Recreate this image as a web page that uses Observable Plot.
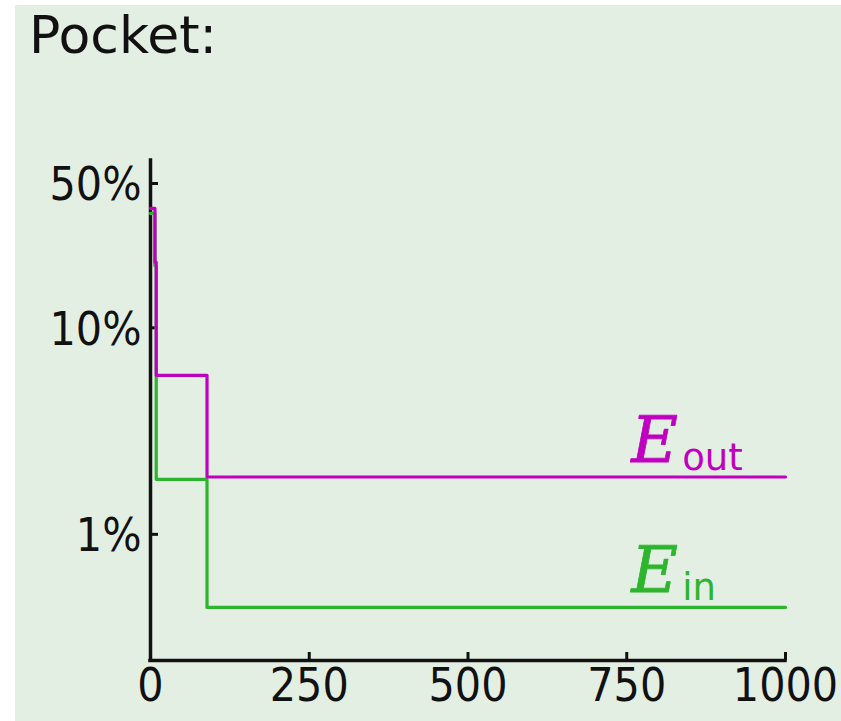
<!DOCTYPE html>
<html>
<head>
<meta charset="utf-8">
<script src="https://cdn.jsdelivr.net/npm/d3@7"></script>
<script src="https://cdn.jsdelivr.net/npm/@observablehq/plot@0.6"></script>
<style>
  html, body { margin: 0; padding: 0; background: #ffffff; }
  #panel { position: absolute; left: 15px; top: 5px; width: 826px; height: 716px; background: #e4efe4; overflow: hidden; }
  #title { position: absolute; left: 14px; top: 4px; font-family: "DejaVu Sans", sans-serif; font-size: 52px; line-height: 1; color: #111; }
  #chart { position: absolute; left: 0; top: 80px; }
</style>
</head>
<body>
<div id="panel">
  <div id="title">Pocket:</div>
  <div id="chart"></div>
</div>
<script>
// Pocket algorithm: error rates per iteration (the pocket weights change only a few times)
const iterations = [0, 7, 9, 89, 1000];
const eOut = [0.379, 0.208, 0.0589, 0.01895, 0.01895];
const eIn = [0.358, 0.200, 0.01846, 0.00443, 0.00443];

const xTicks = [0, 250, 500, 750, 1000];
const yTicks = [0.5, 0.1, 0.01];
const yDomain = [0.00245, 0.646];

const seriesNames = ["out", "in"];
const seriesColors = ["#c000c0", "#2db52d"];

const outRows = iterations.map((t, i) => ({t, v: eOut[i]}));
const inRows = iterations.map((t, i) => ({t, v: eIn[i]}));

// label anchors sit on each series' final level
const labelIter = 757;
const labels = [
  {t: labelIter, v: eOut[eOut.length - 1], sub: seriesNames[0], color: seriesColors[0]},
  {t: labelIter, v: eIn[eIn.length - 1], sub: seriesNames[1], color: seriesColors[1]}
];

const tickFont = "'DejaVu Sans Condensed', 'DejaVu Sans', sans-serif";
const pct = d => Math.round(d * 100) + "%";

const chart = Plot.plot({
  width: 826,
  height: 636,
  marginTop: 75,
  marginBottom: 61,
  marginLeft: 135,
  marginRight: 56,
  style: {background: "transparent", color: "#111"},
  x: {domain: [0, 1000]},
  y: {type: "log", domain: yDomain},
  marks: [
    // inward tick marks
    Plot.axisX({ticks: xTicks, tickSize: -8, strokeWidth: 3, text: null, label: null}),
    Plot.axisY({ticks: yTicks, tickSize: -8, strokeWidth: 3, text: null, label: null}),
    // tick labels
    Plot.text(xTicks, {x: d => d, text: d => String(d), frameAnchor: "bottom", lineAnchor: "top",
      dy: 8, fontSize: 46, fontFamily: tickFont, fill: "#111"}),
    Plot.text(yTicks, {y: d => d, text: pct, frameAnchor: "left", textAnchor: "end",
      dx: -9, dy: 2, fontSize: 46, fontFamily: tickFont, fill: "#111"}),
    // axis lines
    Plot.ruleX([0], {stroke: "#111", strokeWidth: 3.5, strokeLinecap: "square"}),
    Plot.ruleY([yDomain[0]], {stroke: "#111", strokeWidth: 3.5, strokeLinecap: "square"}),
    // error curves
    Plot.line(inRows, {x: "t", y: "v", curve: "step-after", stroke: seriesColors[1], strokeWidth: 3.2}),
    Plot.line(outRows, {x: "t", y: "v", curve: "step-after", stroke: seriesColors[0], strokeWidth: 3.2}),
    // series labels: italic E with a subscript
    Plot.text(labels, {x: "t", y: "v", text: () => "E", fill: "color", textAnchor: "start", lineAnchor: "bottom",
      dy: -15, fontFamily: "'DejaVu Serif', serif", fontStyle: "italic", fontSize: 64, stroke: "color", strokeWidth: 0.8}),
    Plot.text(labels, {x: "t", y: "v", text: "sub", fill: "color", textAnchor: "start", lineAnchor: "bottom",
      dx: 51, dy: -7, fontFamily: "'DejaVu Sans', sans-serif", fontSize: 37})
  ]
});

document.getElementById("chart").appendChild(chart);
</script>
</body>
</html>
